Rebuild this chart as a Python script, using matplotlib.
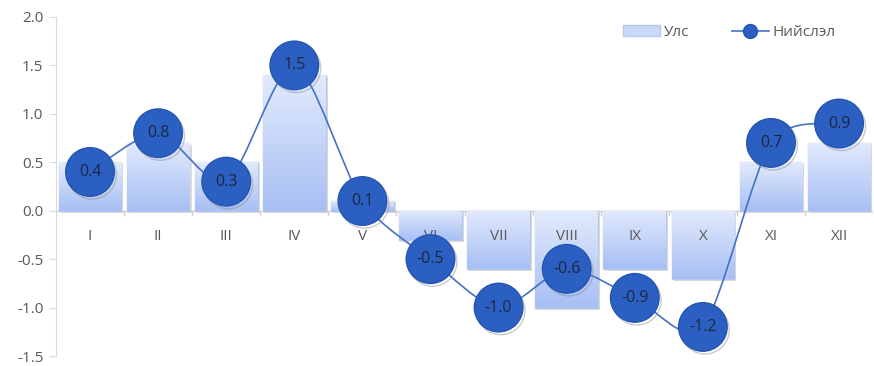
import numpy as np
import matplotlib
matplotlib.use("Agg")
import matplotlib.pyplot as plt
from matplotlib.path import Path
from matplotlib.patches import PathPatch, Patch
from matplotlib.lines import Line2D
from matplotlib.colors import LinearSegmentedColormap
import matplotlib.patheffects as pe

plt.rcParams['font.family'] = ['Open Sans', 'DejaVu Sans']

categories = ["I", "II", "III", "IV", "V", "VI", "VII", "VIII", "IX", "X", "XI", "XII"]
uls = [0.5, 0.7, 0.5, 1.4, 0.1, -0.3, -0.6, -1.0, -0.6, -0.7, 0.5, 0.7]
niislel = [0.4, 0.8, 0.3, 1.5, 0.1, -0.5, -1.0, -0.6, -0.9, -1.2, 0.7, 0.9]
yticks = [-1.5, -1.0, -0.5, 0.0, 0.5, 1.0, 1.5, 2.0]

fig = plt.figure(figsize=(8.74, 3.66), dpi=100)
ax = fig.add_axes([56/874, 1-356/366, 1-56/874-0.001, (356-17)/366])

x = np.arange(len(categories))

# gradient bars
bars = ax.bar(x, uls, width=0.92, color='none', edgecolor='#b8c8e8', linewidth=1.0, zorder=2,
              path_effects=[pe.SimplePatchShadow(offset=(1.5, -1.5), shadow_rgbFace='#c4c4c4', alpha=0.6), pe.Normal()])
grad = np.linspace(0, 1, 256).reshape(-1, 1)
cmap = LinearSegmentedColormap.from_list('g', ['#e2eafc', '#a7bff4'])
for b in bars:
    x0, y0 = b.get_x(), b.get_y()
    w, h = b.get_width(), b.get_height()
    top, bot = max(y0, y0+h), min(y0, y0+h)
    im = ax.imshow(grad, cmap=cmap, extent=[x0, x0+w, bot, top], origin='upper',
                   aspect='auto', zorder=2.1)
    im.set_clip_path(b)
ax.set_xlim(-0.5, len(categories)-0.5)
ax.set_ylim(-1.5, 2.0)

# smooth line through data points (Bezier)
pts = np.column_stack([x, niislel]).astype(float)
verts = [tuple(pts[0])]
codes = [Path.MOVETO]
n = len(pts)
k = 1/7.5
for i in range(n-1):
    p0 = pts[i-1] if i > 0 else pts[i]
    p1 = pts[i]
    p2 = pts[i+1]
    p3 = pts[i+2] if i+2 < n else pts[i+1]
    c1 = p1 + (p2 - p0)*k
    c2 = p2 - (p3 - p1)*k
    verts += [tuple(c1), tuple(c2), tuple(p2)]
    codes += [Path.CURVE4]*3
ax.add_patch(PathPatch(Path(verts, codes), facecolor='none', edgecolor='#4472c4', lw=1.2, zorder=3))

# markers
ax.plot(x, niislel, ls='none', marker='o', markersize=35, markerfacecolor='#2b60c2',
        markeredgecolor='#2455b0', markeredgewidth=1.0, zorder=4,
        path_effects=[pe.SimpleLineShadow(offset=(1.5, -2), shadow_color='#8a8a8a', alpha=0.45), pe.Normal()])
for xi, v in zip(x, niislel):
    ax.text(xi, v, f"{v:.1f}", ha='center', va='center', fontsize=11.5, color='#1b2740', zorder=5)

# axes styling
for s in ['top', 'right', 'bottom']:
    ax.spines[s].set_visible(False)
ax.spines['left'].set_color('#d9d9d9')
ax.axhline(0, color='#d0d0d0', lw=1, zorder=1.5)
ax.set_yticks(yticks)
ax.set_yticklabels([f"{t:.1f}" for t in yticks])
ax.tick_params(axis='y', colors='#d9d9d9', labelcolor='#595959', labelsize=11, length=5, pad=4)
ax.set_xticks([])
for b in np.arange(-0.5, len(categories), 1.0):
    ax.plot([b, b], [0, -0.04], color='#d0d0d0', lw=1, zorder=1.5)
for xi, c in zip(x, categories):
    ax.text(xi, -0.27, c, ha='center', va='center', fontsize=11, color='#595959', zorder=3)

handles = [Patch(facecolor='#cbd9f8', edgecolor='#b8c8e8', label='Улс'),
           Line2D([0], [0], color='#4472c4', lw=1.2, marker='o', markersize=10,
                  markerfacecolor='#2b60c2', markeredgecolor='#2455b0', label='Нийслэл')]
leg = ax.legend(handles=handles, loc='upper left', bbox_to_anchor=(617/874, 1-19/366),
                bbox_transform=fig.transFigure, ncol=2, frameon=False, fontsize=11,
                handlelength=2.4, handletextpad=0.25, columnspacing=2.8, borderaxespad=0)
for t in leg.get_texts():
    t.set_color('#595959')

fig.savefig('out.png', dpi=100)
